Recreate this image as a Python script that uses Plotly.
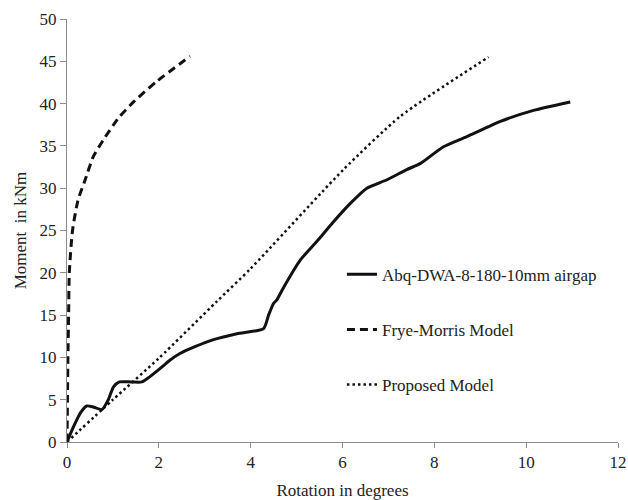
import plotly.graph_objects as go

# Abaqus model: DWA-8-180 with 10 mm air gap
abq_rot = [0, 0.15, 0.3, 0.43, 0.57, 0.76, 0.9, 1.01, 1.14, 1.4, 1.63, 1.8, 2.03, 2.24,
           2.46, 2.8, 3.19, 3.7, 4.28, 4.39, 4.50, 4.57, 4.72, 5.08, 5.44, 5.80, 6.17,
           6.53, 6.97, 7.40, 7.69, 8.20, 8.71, 9.44, 10.16, 10.96]
abq_mom = [0, 1.9, 3.5, 4.26, 4.14, 3.83, 5.0, 6.5, 7.1, 7.1, 7.1, 7.7, 8.7, 9.67,
           10.46, 11.3, 12.1, 12.8, 13.4, 15.0, 16.4, 16.8, 18.3, 21.5, 23.7, 26.0, 28.2,
           30.0, 31.0, 32.2, 32.9, 34.9, 36.1, 37.9, 39.2, 40.2]

# Frye-Morris polynomial model
fm_rot = [0, 0.01, 0.02, 0.035, 0.05, 0.12, 0.24, 0.39, 0.57, 0.79, 1.12, 1.45, 1.95, 2.68]
fm_mom = [0, 5, 10, 15, 20, 25, 28.6, 30.9, 33.7, 35.7, 38.3, 40.2, 42.6, 45.6]

# Proposed model
pm_rot = [0, 1, 2, 3.26, 4.0, 6.02, 7.26, 9.18]
pm_mom = [0, 5.0, 9.9, 16.6, 20.5, 32.2, 38.5, 45.5]

series_names = ["Abq-DWA-8-180-10mm airgap", "Frye-Morris Model", "Proposed Model"]

x_ticks = [0, 2, 4, 6, 8, 10, 12]
y_ticks = [0, 5, 10, 15, 20, 25, 30, 35, 40, 45, 50]

FONT = "'Liberation Serif', 'Times New Roman', serif"
AXIS_GREY = "#8c8c8c"

fig = go.Figure()
fig.add_trace(go.Scatter(
    x=abq_rot, y=abq_mom, name=series_names[0], mode="lines", legendgroup="a",
    line=dict(color="#111111", width=3, shape="spline", smoothing=0.6)))
fig.add_trace(go.Scatter(
    x=fm_rot, y=fm_mom, name=series_names[1], mode="lines", legendgroup="b",
    line=dict(color="#111111", width=3, dash="8px,5px", shape="spline", smoothing=0.6)))
fig.add_trace(go.Scatter(
    x=pm_rot, y=pm_mom, name=series_names[2], mode="lines", legendgroup="c",
    line=dict(color="#111111", width=2.5, dash="2.5px,3px", shape="spline", smoothing=0.6)))

fig.update_layout(
    width=628, height=500,
    margin=dict(l=67, r=10, t=19, b=58),
    paper_bgcolor="white", plot_bgcolor="white",
    font=dict(family=FONT, size=17, color="#222222"),
    showlegend=True,
    legend=dict(
        x=0.499, y=0.438, xanchor="left", yanchor="top",
        bgcolor="rgba(0,0,0,0)", borderwidth=0,
        traceorder="grouped", tracegroupgap=30,
        font=dict(family=FONT, size=17, color="#222222"),
    ),
    xaxis=dict(
        range=[0, 12], tickvals=x_ticks, ticks="outside", ticklen=5, tickwidth=1,
        tickcolor=AXIS_GREY, showline=True, linecolor=AXIS_GREY, linewidth=1,
        showgrid=False, zeroline=False, automargin=False,
        title=dict(text="Rotation in degrees", standoff=13, font=dict(size=17)),
    ),
    yaxis=dict(
        range=[0, 50], tickvals=y_ticks, ticks="outside", ticklen=6, tickwidth=1,
        tickcolor=AXIS_GREY, showline=True, linecolor=AXIS_GREY, linewidth=1,
        showgrid=False, zeroline=False, automargin=False,
        title=dict(text="Moment  in kNm", standoff=8, font=dict(size=17)),
    ),
)

fig.write_html("out.html")
